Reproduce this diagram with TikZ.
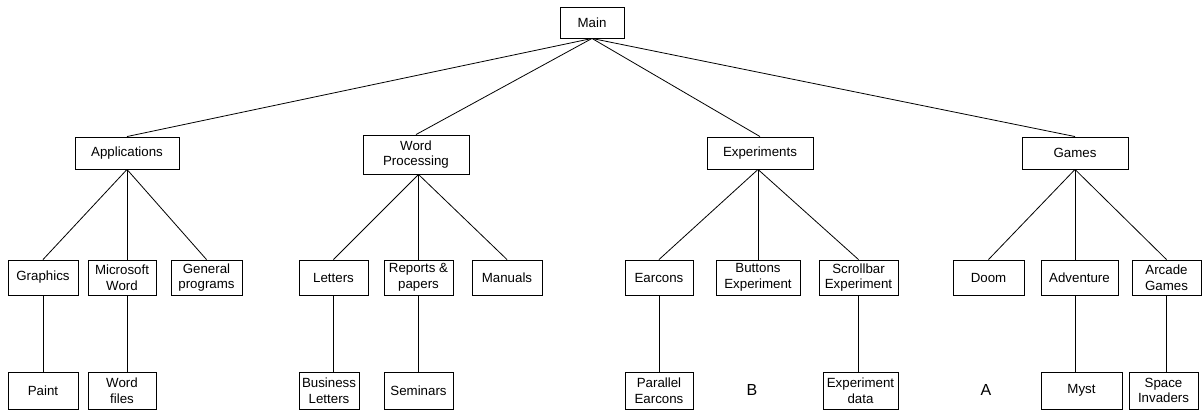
\documentclass[tikz,border=0pt]{standalone}
\usepackage{fontspec}
\setmainfont{Liberation Sans}
\begin{document}
\begin{tikzpicture}[x=1pt,y=-1pt,
  box/.style={draw=black,line width=0.9pt,rectangle,inner sep=0pt,align=center,
    font=\fontsize{13.3}{15.5}\selectfont},
  lvl1/.style={box,minimum height=32},
  lvl2/.style={box,minimum height=35},
  lvl3/.style={box,minimum height=37},
  tag/.style={inner sep=0pt,font=\fontsize{16}{18}\selectfont},
  link/.style={draw=black,line width=0.8pt}]
\useasboundingbox (0,0) rectangle (1202,410);
% root
\node[box,minimum width=64,minimum height=31] (main) at (592,22.5) {Main};
% level 1
\node[lvl1,minimum width=104] (app) at (127,153) {Applications};
\node[box,minimum width=106,minimum height=39] (wp) at (416,154.5) {Word\\Processing};
\node[lvl1,minimum width=106] (exp) at (760,153) {Experiments};
\node[lvl1,minimum width=106] (games) at (1075,153) {Games};
% level 2
\node[lvl2,minimum width=70] (graph) at (43,277.5) {Graphics};
\node[lvl2,minimum width=68] (msw) at (122,277.5) {Microsoft\\Word};
\node[lvl2,minimum width=71] (gen) at (206.5,277.5) {General\\programs};
\node[lvl2,minimum width=69] (let) at (333.5,277.5) {Letters};
\node[lvl2,minimum width=69] (rep) at (418.5,277.5) {Reports \&\\papers};
\node[lvl2,minimum width=70] (man) at (507,277.5) {Manuals};
\node[lvl2,minimum width=68] (earc) at (659,277.5) {Earcons};
\node[lvl2,minimum width=84] (butt) at (758,277.5) {Buttons\\Experiment};
\node[lvl2,minimum width=79] (scroll) at (858.5,277.5) {Scrollbar\\Experiment};
\node[lvl2,minimum width=71] (doom) at (988.5,277.5) {Doom};
\node[lvl2,minimum width=77] (adv) at (1079.5,277.5) {Adventure};
\node[lvl2,minimum width=69] (arc) at (1166.5,277.5) {Arcade\\Games};
% level 3
\node[lvl3,minimum width=70] (paint) at (43,390.5) {Paint};
\node[lvl3,minimum width=68] (wfiles) at (122,390.5) {Word\\files};
\node[lvl3,minimum width=60] (bus) at (329,390.5) {Business\\Letters};
\node[lvl3,minimum width=69] (sem) at (418.5,390.5) {Seminars};
\node[lvl3,minimum width=68] (par) at (659,390.5) {Parallel\\Earcons};
\node[lvl3,minimum width=75] (edata) at (860.5,390.5) {Experiment\\data};
\node[lvl3,minimum width=81] (myst) at (1081.5,390.5) {Myst};
\node[lvl3,minimum width=69] (space) at (1163.5,390.5) {Space\\Invaders};
% free labels
\node[tag] (labB) at (752,390) {B};
\node[tag] (labA) at (986,390) {A};
% connectors: root to level 1
\draw[link] (main.south) -- (app.north);
\draw[link] (main.south) -- (wp.north);
\draw[link] (main.south) -- (exp.north);
\draw[link] (main.south) -- (games.north);
% level 1 to level 2
\draw[link] (app.south) -- (graph.north);
\draw[link] (app.south) -- (app.south |- msw.north);
\draw[link] (app.south) -- (gen.north);
\draw[link] (rep.north |- wp.south) -- (let.north);
\draw[link] (rep.north |- wp.south) -- (rep.north);
\draw[link] (rep.north |- wp.south) -- (man.north);
\draw[link] (butt.north |- exp.south) -- (earc.north);
\draw[link] (butt.north |- exp.south) -- (butt.north);
\draw[link] (butt.north |- exp.south) -- (scroll.north);
\draw[link] (games.south) -- (doom.north);
\draw[link] (games.south) -- (games.south |- adv.north);
\draw[link] (games.south) -- (arc.north);
% level 2 to level 3
\draw[link] (graph.south) -- (graph.south |- paint.north);
\draw[link] (app.south |- msw.south) -- (app.south |- wfiles.north);
\draw[link] (let.south) -- (let.south |- bus.north);
\draw[link] (rep.south) -- (rep.south |- sem.north);
\draw[link] (earc.south) -- (earc.south |- par.north);
\draw[link] (scroll.south) -- (scroll.south |- edata.north);
\draw[link] (games.south |- adv.south) -- (games.south |- myst.north);
\draw[link] (arc.south) -- (arc.south |- space.north);
\end{tikzpicture}
\end{document}
